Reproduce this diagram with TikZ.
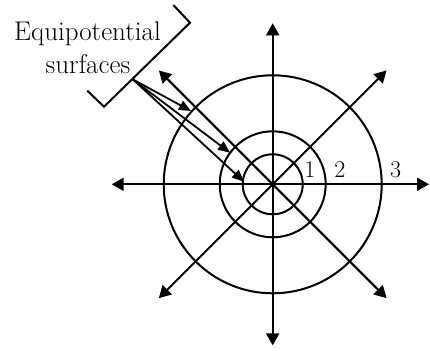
\documentclass[tikz,border=0pt]{standalone}
\usepackage{fontspec}
\usetikzlibrary{arrows.meta,calc}
\begin{document}
\begin{tikzpicture}[x=1pt,y=-1pt,
  line/.style={line width=2pt},
  arr/.style={line width=2pt,-{Triangle[length=12pt,width=13pt]}},
  sarr/.style={line width=1.8pt,-{Triangle[length=12pt,width=10pt]}},
  lbl/.style={font=\fontsize{27}{32}\selectfont,inner sep=0pt,anchor=base},
  num/.style={font=\fontsize{24}{28}\selectfont,inner sep=0pt,anchor=base}]
\useasboundingbox (0,0) rectangle (430,350);
\coordinate (C) at (272.7,184.3);
% circles
\draw[line] (C) circle[radius=30];
\draw[line] (C) circle[radius=53];
\draw[line] (C) circle[radius=109];
% radial arrows
\foreach \a/\n in {0/e,45/se,90/s,135/sw,180/w,225/nw,270/n,315/ne}{
  \coordinate (\n) at ($(C)+(\a:161)$);
}
\coordinate (e) at (429,184.3);
\foreach \n in {e,se,s,sw,w,nw,n,ne}{
  \draw[arr] (C) -- (\n);
}
% labels
\node[num] (one) at (310,177.3) {1};
\node[num] (two) at (340,177.3) {2};
\node[num] (three) at (395.7,177.3) {3};
\node[lbl] (ta) at (87.5,41) {Equipotential};
\node[lbl] (tb) at (88,73.3) {surfaces};
% bracket
\coordinate (b1) at (173.3,5);
\coordinate (b2) at (190,22.7);
\coordinate (b3) at (104,106.7);
\coordinate (b4) at (87.3,90.7);
\draw[line, line join=miter] (b1) -- (b2) -- (b3) -- (b4);
\coordinate (O) at (133,79.5);
\coordinate (t1) at (191,111);
\coordinate (t2) at (230,152.7);
\coordinate (t3) at (244,181.7);
\foreach \t in {t1,t2,t3}{
  \draw[sarr] (O) -- (\t);
}
\end{tikzpicture}
\end{document}
